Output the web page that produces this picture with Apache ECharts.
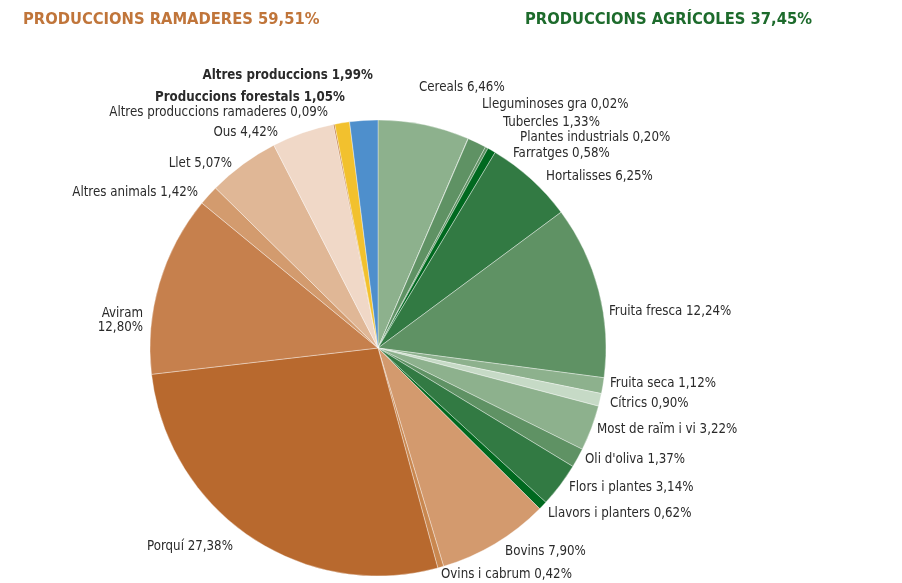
<!DOCTYPE html>
<html>
<head>
<meta charset="utf-8">
<script src="https://cdn.jsdelivr.net/npm/echarts@6/dist/echarts.min.js"></script>
<style>
  html, body { margin: 0; padding: 0; background: #fff; }
  #chart { width: 902px; height: 583px; }
</style>
</head>
<body>
<div id="chart"></div>
<script>
// noms de les produccions, en ordre horari des de les 12
var names = [
  'Cereals', 'Lleguminoses gra', 'Tubercles', 'Plantes industrials', 'Farratges',
  'Hortalisses', 'Fruita fresca', 'Fruita seca', 'Cítrics', 'Most de raïm i vi',
  "Oli d'oliva", 'Flors i plantes', 'Llavors i planters',
  'Bovins', 'Ovins i cabrum', 'Porquí', 'Aviram', 'Altres animals', 'Llet', 'Ous',
  'Altres produccions ramaderes', 'Produccions forestals', 'Altres produccions'
];
// percentatges
var values = [
  6.46, 0.02, 1.33, 0.20, 0.58,
  6.25, 12.24, 1.12, 0.90, 3.22,
  1.37, 3.14, 0.62,
  7.90, 0.42, 27.38, 12.80, 1.42, 5.07, 4.42,
  0.09, 1.05, 1.99
];
var totalRamaderes = 59.51;
var totalAgricoles = 37.45;

var colors = [
  '#8db18d', '#5f9264', '#5f9264', '#5f9264', '#00691f',
  '#327a43', '#5f9264', '#8db18d', '#c6dac6', '#8db18d',
  '#5f9264', '#327a43', '#00691f',
  '#d39a6e', '#c9874f', '#b8692e', '#c6804d', '#d39b6e', '#e0b796', '#f0d8c7',
  '#b8692e', '#f2c12e', '#4e8fcc'
];
var boldNames = ['Produccions forestals', 'Altres produccions'];

// on va cada etiqueta (com a l'original, col·locades a mà): [x, y, alineació]
var labelPos = [
  [419, 88, 'left'], [482, 105, 'left'], [503, 123, 'left'], [520, 138, 'left'], [513, 154, 'left'],
  [546, 177, 'left'], [609, 312, 'left'], [610, 384, 'left'], [610, 404, 'left'], [597, 430, 'left'],
  [585, 460, 'left'], [569, 488, 'left'], [548, 514, 'left'],
  [505, 552, 'left'], [441, 575, 'left'], [147, 547, 'left'], [143, 321, 'right'],
  [198, 193, 'right'], [232, 164, 'right'], [278, 133, 'right'],
  [328, 113, 'right'], [345, 98, 'right'], [373, 76, 'right']
];

function pct(v) {
  return v.toFixed(2).replace('.', ',') + '%';
}

var fontFam = "'Liberation Sans Narrow', 'DejaVu Sans Condensed', 'Liberation Sans', sans-serif";

var pieData = names.map(function (n, i) {
  var item = { name: n, value: values[i], itemStyle: { color: colors[i] } };
  if (boldNames.indexOf(n) >= 0) {
    item.label = { fontWeight: 'bold' };
  }
  return item;
});

var chart = echarts.init(document.getElementById('chart'));
chart.setOption({
  animation: false,
  graphic: [
    {
      type: 'text', left: 23, top: 12,
      style: {
        text: 'PRODUCCIONS RAMADERES ' + pct(totalRamaderes),
        fill: '#c0753a', font: "bold 16.4px " + fontFam
      }
    },
    {
      type: 'text', left: 525, top: 12,
      style: {
        text: 'PRODUCCIONS AGRÍCOLES ' + pct(totalAgricoles),
        fill: '#1d6b2c', font: "bold 16.4px " + fontFam
      }
    }
  ],
  series: [{
    type: 'pie',
    center: [378, 348],
    radius: 228,
    startAngle: 90,
    clockwise: true,
    minShowLabelAngle: 0,
    itemStyle: { borderColor: 'rgba(255,255,255,0.6)', borderWidth: 0.6 },
    label: {
      show: true,
      position: 'outside',
      color: '#2a2a2a',
      fontSize: 13.2,
      lineHeight: 14,
      fontFamily: fontFam,
      overflow: 'none',
      formatter: function (p) {
        return p.name + (p.name === 'Aviram' ? '\n' : ' ') + pct(p.value);
      }
    },
    labelLine: { show: false },
    labelLayout: function (p) {
      var lp = labelPos[p.dataIndex];
      return { x: lp[0], y: lp[1], align: lp[2], verticalAlign: 'middle' };
    },
    emphasis: { disabled: true },
    data: pieData
  }]
});
</script>
</body>
</html>
